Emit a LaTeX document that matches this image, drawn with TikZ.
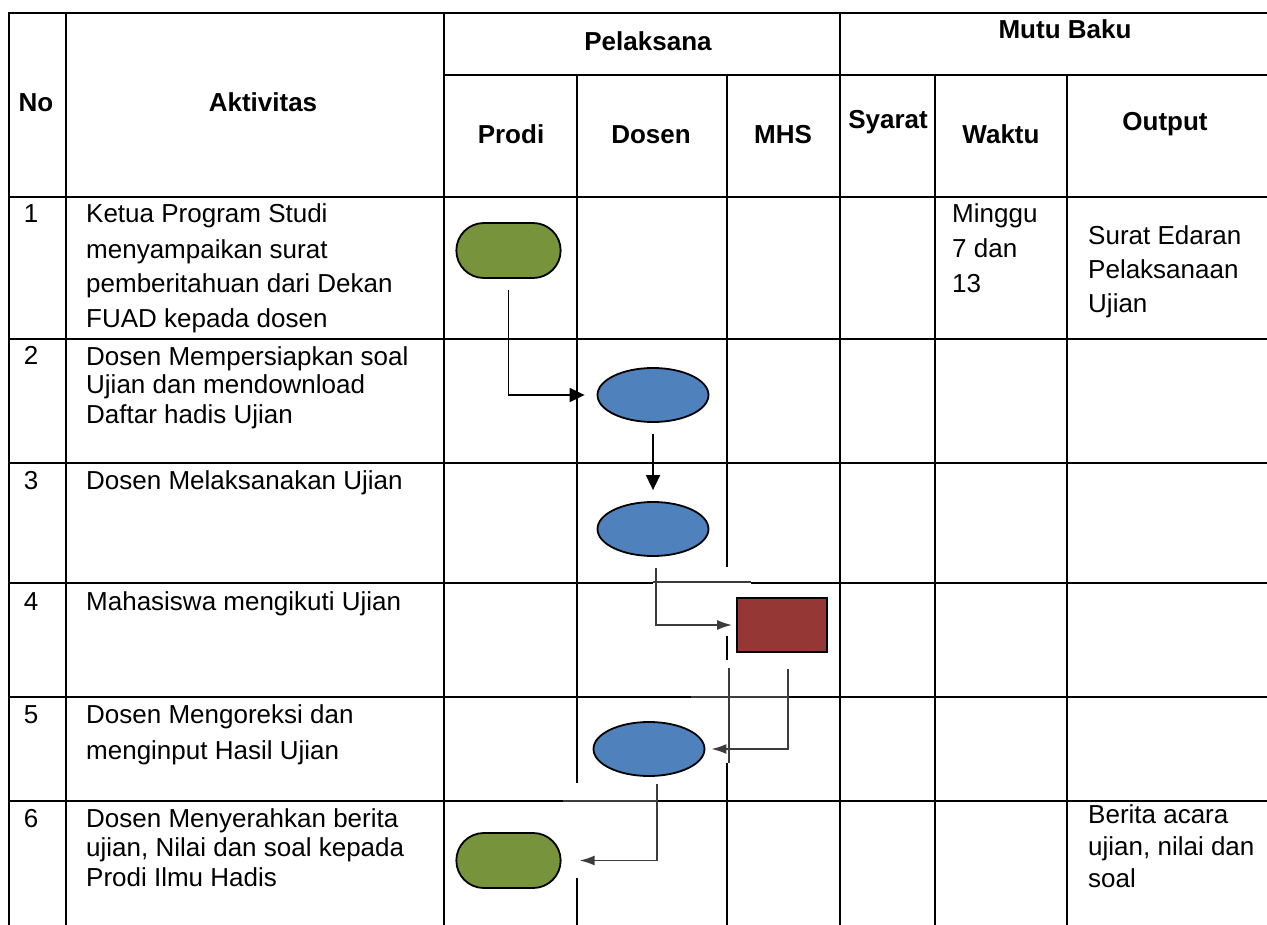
\documentclass[tikz,border=0pt]{standalone}
\usepackage{fontspec}
\setmainfont{Liberation Sans}
\usetikzlibrary{arrows.meta,shapes.geometric,shapes.misc}
\definecolor{OliveFill}{RGB}{119,147,60}
\definecolor{BlueFill}{RGB}{79,129,189}
\definecolor{RedFill}{RGB}{149,55,53}
\definecolor{FlowGray}{RGB}{60,60,60}

\begin{document}
\begin{tikzpicture}[x=1pt, y=-1pt,
    gridline/.style={line width=1.4pt},
    hd/.style={font=\bfseries\fontsize{26}{30}\selectfont, inner sep=0pt, anchor=base},
    num/.style={font=\fontsize{26}{30}\selectfont, inner sep=0pt, anchor=base},
    % anchor sits on the LAST line of a cell
    cell/.style={font=\fontsize{26}{#1}\selectfont, inner sep=0pt, anchor=base west, align=left},
    cell/.default=30,
    terminal/.style={draw, line width=1.8pt, rounded rectangle, fill=OliveFill,
                     minimum width=111pt, minimum height=55pt},
    proc/.style={draw, line width=1.8pt, ellipse, fill=BlueFill,
                 minimum width=111pt, minimum height=54pt},
    task/.style={draw, line width=1.8pt, fill=RedFill,
                 minimum width=90pt, minimum height=54pt},
    flow/.style={line width=1.8pt, -{Triangle[length=15pt,width=14pt]}},
    thin flow/.style={line width=1.8pt, FlowGray, -{Latex[length=15pt,width=10pt]}},
    whiteout/.style={fill=white, draw=none},
    patchline/.style={line width=1.4pt, FlowGray}
  ]
  \useasboundingbox (0,0) rectangle (1267,925);

  % table rules
  \foreach \y in {13,197,339,463,583,697,801}
    \draw[gridline] (8,\y) -- (1267,\y);
  \draw[gridline] (444,75) -- (1267,75);
  \foreach \x in {9,66,444,840}
    \draw[gridline] (\x,13) -- (\x,925);
  \foreach \x in {577,727,935,1067}
    \draw[gridline] (\x,75) -- (\x,925);

  % header
  \node[hd] (hno)     at (36,112)   {No};
  \node[hd] (hakt)    at (263,112)  {Aktivitas};
  \node[hd] (hpel)    at (648,51)   {Pelaksana};
  \node[hd] (hmutu)   at (1065,39)  {Mutu Baku};
  \node[hd] (hprodi)  at (511,144)  {Prodi};
  \node[hd] (hdosen)  at (651,144)  {Dosen};
  \node[hd] (hmhs)    at (783,144)  {MHS};
  \node[hd] (hsyarat) at (888,129)  {Syarat};
  \node[hd] (hwaktu)  at (1001,144) {Waktu};
  \node[hd] (hout)    at (1165,131) {Output};

  % rows
  \foreach \n/\y in {1/223,2/365,3/489,4/610,5/723,6/827}
    \node[num] (no\n) at (31,\y) {\n};
  \node[cell=35] (akt1) at (86,328)
    {Ketua Program Studi\\menyampaikan surat\\pemberitahuan dari Dekan\\FUAD kepada dosen};
  \node[cell=29] (akt2) at (86,423)
    {Dosen Mempersiapkan soal\\Ujian dan mendownload\\Daftar hadis Ujian};
  \node[cell] (akt3) at (86,489) {Dosen Melaksanakan Ujian};
  \node[cell] (akt4) at (86,610) {Mahasiswa mengikuti Ujian};
  \node[cell=36] (akt5) at (86,759) {Dosen Mengoreksi dan\\menginput Hasil Ujian};
  \node[cell=29.5] (akt6) at (86,886)
    {Dosen Menyerahkan berita\\ujian, Nilai dan soal kepada\\Prodi Ilmu Hadis};
  \node[cell=35] (waktu1) at (952,293) {Minggu\\7 dan\\13};
  \node[cell=34] (out1) at (1088,313) {Surat Edaran\\Pelaksanaan\\Ujian};
  \node[cell=32] (out6) at (1088,887) {Berita acara\\ujian, nilai dan\\soal};

  % pasted connector backgrounds
  \fill[whiteout] (653,567) rectangle (751,636);
  \draw[patchline] (653,582) -- (751,582);
  \fill[whiteout] (691,660) rectangle (788,763);
  \draw[patchline] (691,697) -- (788,697);
  \draw[patchline] (729,668) -- (729,763);
  \fill[whiteout] (563,783) rectangle (657,878);
  \draw[patchline] (563,801) -- (657,801);

  % flow shapes
  \node[terminal] (start)  at (508.5,250.5) {};
  \node[proc]     (prep)   at (653,395)     {};
  \node[proc]     (exam)   at (653,529)     {};
  \node[task]     (sit)    at (782,625)     {};
  \node[proc]     (grade)  at (649,749)     {};
  \node[terminal] (submit) at (508.5,860.5) {};

  \draw[flow, shorten <=11pt, shorten >=12pt] (start.south) |- (prep.west);
  \draw[flow, shorten <=11pt, shorten >=11pt] (prep.south) -- (exam.north);
  \draw[thin flow, shorten <=11pt, shorten >=4pt] ([xshift=3pt]exam.south) |- (sit.west);
  \draw[thin flow, shorten <=16pt, shorten >=6pt] ([xshift=6pt]sit.south) |- (grade.east);
  \draw[thin flow, shorten <=7pt, shorten >=18pt] ([xshift=8pt]grade.south) |- (submit.east);
\end{tikzpicture}
\end{document}
